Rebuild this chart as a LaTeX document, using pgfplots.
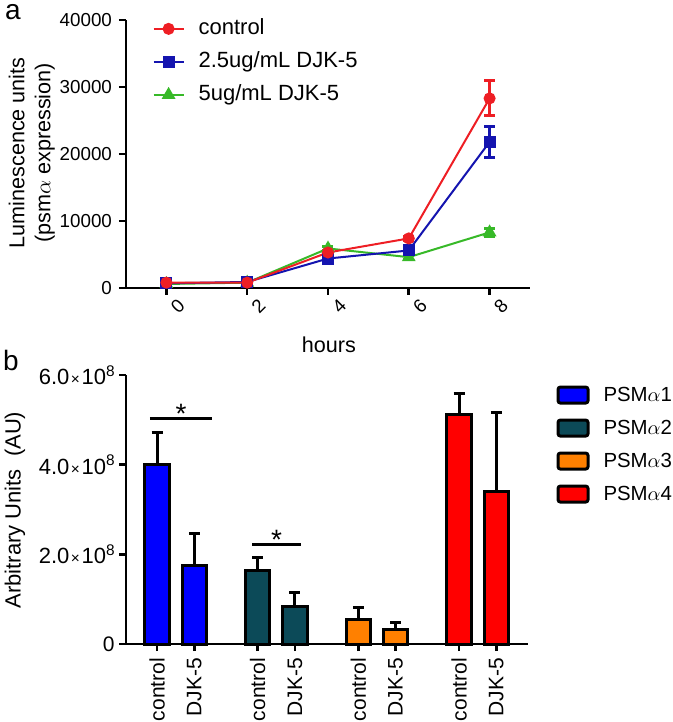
\documentclass[border=0pt]{standalone}
\usepackage{fontspec}
\setmainfont{Liberation Sans}
\usepackage{pgfplots}
\pgfplotsset{compat=1.18}

\definecolor{cred}{RGB}{238,30,36}
\definecolor{cblue}{RGB}{20,20,175}
\definecolor{cgreen}{RGB}{55,185,40}
\definecolor{psmone}{RGB}{0,0,255}
\definecolor{psmtwo}{RGB}{12,74,88}
\definecolor{psmthree}{RGB}{255,128,0}
\definecolor{psmfour}{RGB}{255,0,0}

% tick label like 2.0x10^8
\newcommand{\sci}[1]{\fontsize{11}{13}\selectfont #1\hspace{0.8pt}{\fontsize{7.7}{9}\selectfont ×}\hspace{0.8pt}10\raisebox{4.2pt}{\fontsize{7.7}{9}\selectfont 8}}

\pgfplotsset{
  linestyle/.style={line width=1pt, mark size=2.5pt, mark options={solid},
    error bars/y dir=both, error bars/y explicit,
    error bars/error bar style={line width=1.5pt},
    error bars/error mark options={rotate=90, mark size=2.75pt, line width=1.5pt}},
  psmbar/.style={ybar, bar width=0.24, bar shift=0pt, draw=black, line width=1.5pt,
    legend image code/.code={\draw[##1, line width=1.5pt, rounded corners=1.2pt] (0pt,-3.8pt) rectangle (15pt,4.2pt);},
    error bars/y dir=plus, error bars/y explicit,
    error bars/error bar style={line width=1.5pt, black},
    error bars/error mark options={rotate=90, mark size=2.75pt, line width=1.5pt, black}},
}

\begin{document}
\begin{tikzpicture}
\useasboundingbox (0,0) rectangle (336.5pt,361pt);
\node[font=\fontsize{14}{16}\selectfont, inner sep=0pt] at (6.5pt,355pt) {a};
\node[font=\fontsize{14}{16}\selectfont, inner sep=0pt] at (5.5pt,180.8pt) {b};

% panel a: luminescence time course
\begin{axis}[
  at={(63pt,217pt)}, anchor=south west,
  scale only axis, width=202pt, height=134pt,
  xmin=-1, xmax=9, ymin=0, ymax=40000,
  clip=false,
  axis x line=bottom, axis y line=left,
  axis line style={-, line width=1.3pt},
  tick align=outside, major tick length=3.5pt,
  tick style={line width=1.3pt, black},
  scaled y ticks=false,
  xtick={0,2,4,6,8}, xticklabels={0,2,4,6,8},
  ytick={0,10000,20000,30000,40000},
  yticklabels={0,10000,20000,30000,40000},
  tick label style={font=\fontsize{9.4}{11}\selectfont},
  xticklabel style={rotate=45, anchor=center, yshift=-8pt},
  xlabel={hours},
  ylabel={Luminescence units\\(psm$\alpha$ expression)},
  label style={font=\fontsize{10.8}{13}\selectfont},
  ylabel style={align=center, at={(axis description cs:-0.233,0.504)}, anchor=center},
  xlabel style={at={(axis description cs:0.502,-0.213)}, anchor=center},
  reverse legend,
  legend image code/.code={\draw[mark repeat=2, mark phase=2, #1] plot coordinates {(0pt,0pt) (7.5pt,0pt) (15pt,0pt)};},
  legend style={at={(axis description cs:0.05,1.03)}, anchor=north west,
    draw=none, fill=none, font=\fontsize{11}{13}\selectfont,
    row sep=4pt, nodes={inner sep=1pt, text height=8pt, text depth=2.5pt},
    /tikz/every odd column/.append style={column sep=6pt}},
  legend cell align=left,
]
\addplot[cgreen, linestyle, mark=triangle*, mark size=3pt] coordinates {
  (0,600) +- (0,150) (2,800) +- (0,150) (4,5900) +- (0,300)
  (6,4600) +- (0,300) (8,8300) +- (0,600)};
\addlegendentry{5ug/mL DJK-5}
\addplot[cblue, linestyle, mark=square*] coordinates {
  (0,700) +- (0,150) (2,900) +- (0,150) (4,4400) +- (0,300)
  (6,5600) +- (0,300) (8,21800) +- (0,2300)};
\addlegendentry{2.5ug/mL DJK-5}
\addplot[cred, linestyle, mark=*] coordinates {
  (0,800) +- (0,150) (2,800) +- (0,150) (4,5300) +- (0,300)
  (6,7400) +- (0,300) (8,28300) +- (0,2600)};
\addlegendentry{control}
\end{axis}

% panel b: PSM alpha peptides
\begin{axis}[
  at={(63pt,39pt)}, anchor=south west,
  scale only axis, width=201pt, height=134.5pt,
  xmin=-0.308, xmax=3.685, ymin=0, ymax=6e8,
  clip=false,
  axis x line=bottom, axis y line=left,
  axis line style={-, line width=1.3pt},
  tick align=outside, major tick length=3.5pt,
  tick style={line width=1.3pt, black},
  scaled y ticks=false,
  xtick={0,0.37,1,1.37,2,2.37,3,3.37},
  xticklabels={control,DJK-5,control,DJK-5,control,DJK-5,control,DJK-5},
  xticklabel style={rotate=90, anchor=east, font=\fontsize{10.5}{12}\selectfont},
  ytick={0,2e8,4e8,6e8},
  yticklabels={0,\sci{2.0},\sci{4.0},\sci{6.0}},
  yticklabel style={font=\fontsize{10.5}{12}\selectfont, inner sep=2pt},
  ylabel={\fontsize{11}{13}\selectfont Arbitrary Units\ \ (AU)},
  ylabel style={at={(axis description cs:-0.276,0.498)}, anchor=center},
  legend style={at={(axis description cs:1.055,0.985)}, anchor=north west,
    draw=none, fill=none, font=\fontsize{10.2}{12}\selectfont,
    row sep=4.5pt, nodes={inner sep=1pt, text height=8pt, text depth=2pt},
    /tikz/every odd column/.append style={column sep=6pt}},
  legend cell align=left,
]
\addplot[psmbar, fill=psmone] coordinates {(0,4.01e8) +- (0,0.71e8) (0.37,1.74e8) +- (0,0.73e8)};
\addlegendentry{PSM$\alpha$1}
\addplot[psmbar, fill=psmtwo] coordinates {(1,1.63e8) +- (0,0.30e8) (1.37,0.83e8) +- (0,0.31e8)};
\addlegendentry{PSM$\alpha$2}
\addplot[psmbar, fill=psmthree] coordinates {(2,0.55e8) +- (0,0.26e8) (2.37,0.33e8) +- (0,0.15e8)};
\addlegendentry{PSM$\alpha$3}
\addplot[psmbar, fill=psmfour] coordinates {(3,5.11e8) +- (0,0.48e8) (3.37,3.40e8) +- (0,1.76e8)};
\addlegendentry{PSM$\alpha$4}
\draw[line width=1.5pt] (axis cs:-0.07,5.02e8) -- (axis cs:0.546,5.02e8);
\node[anchor=base, font=\fontsize{14}{16}\selectfont, inner sep=0pt, yshift=-2.2pt] at (axis cs:0.238,5.02e8) {*};
\draw[line width=1.5pt] (axis cs:0.944,2.21e8) -- (axis cs:1.43,2.21e8);
\node[anchor=base, font=\fontsize{14}{16}\selectfont, inner sep=0pt, yshift=-2.2pt] at (axis cs:1.187,2.21e8) {*};
\end{axis}
\end{tikzpicture}
\end{document}
